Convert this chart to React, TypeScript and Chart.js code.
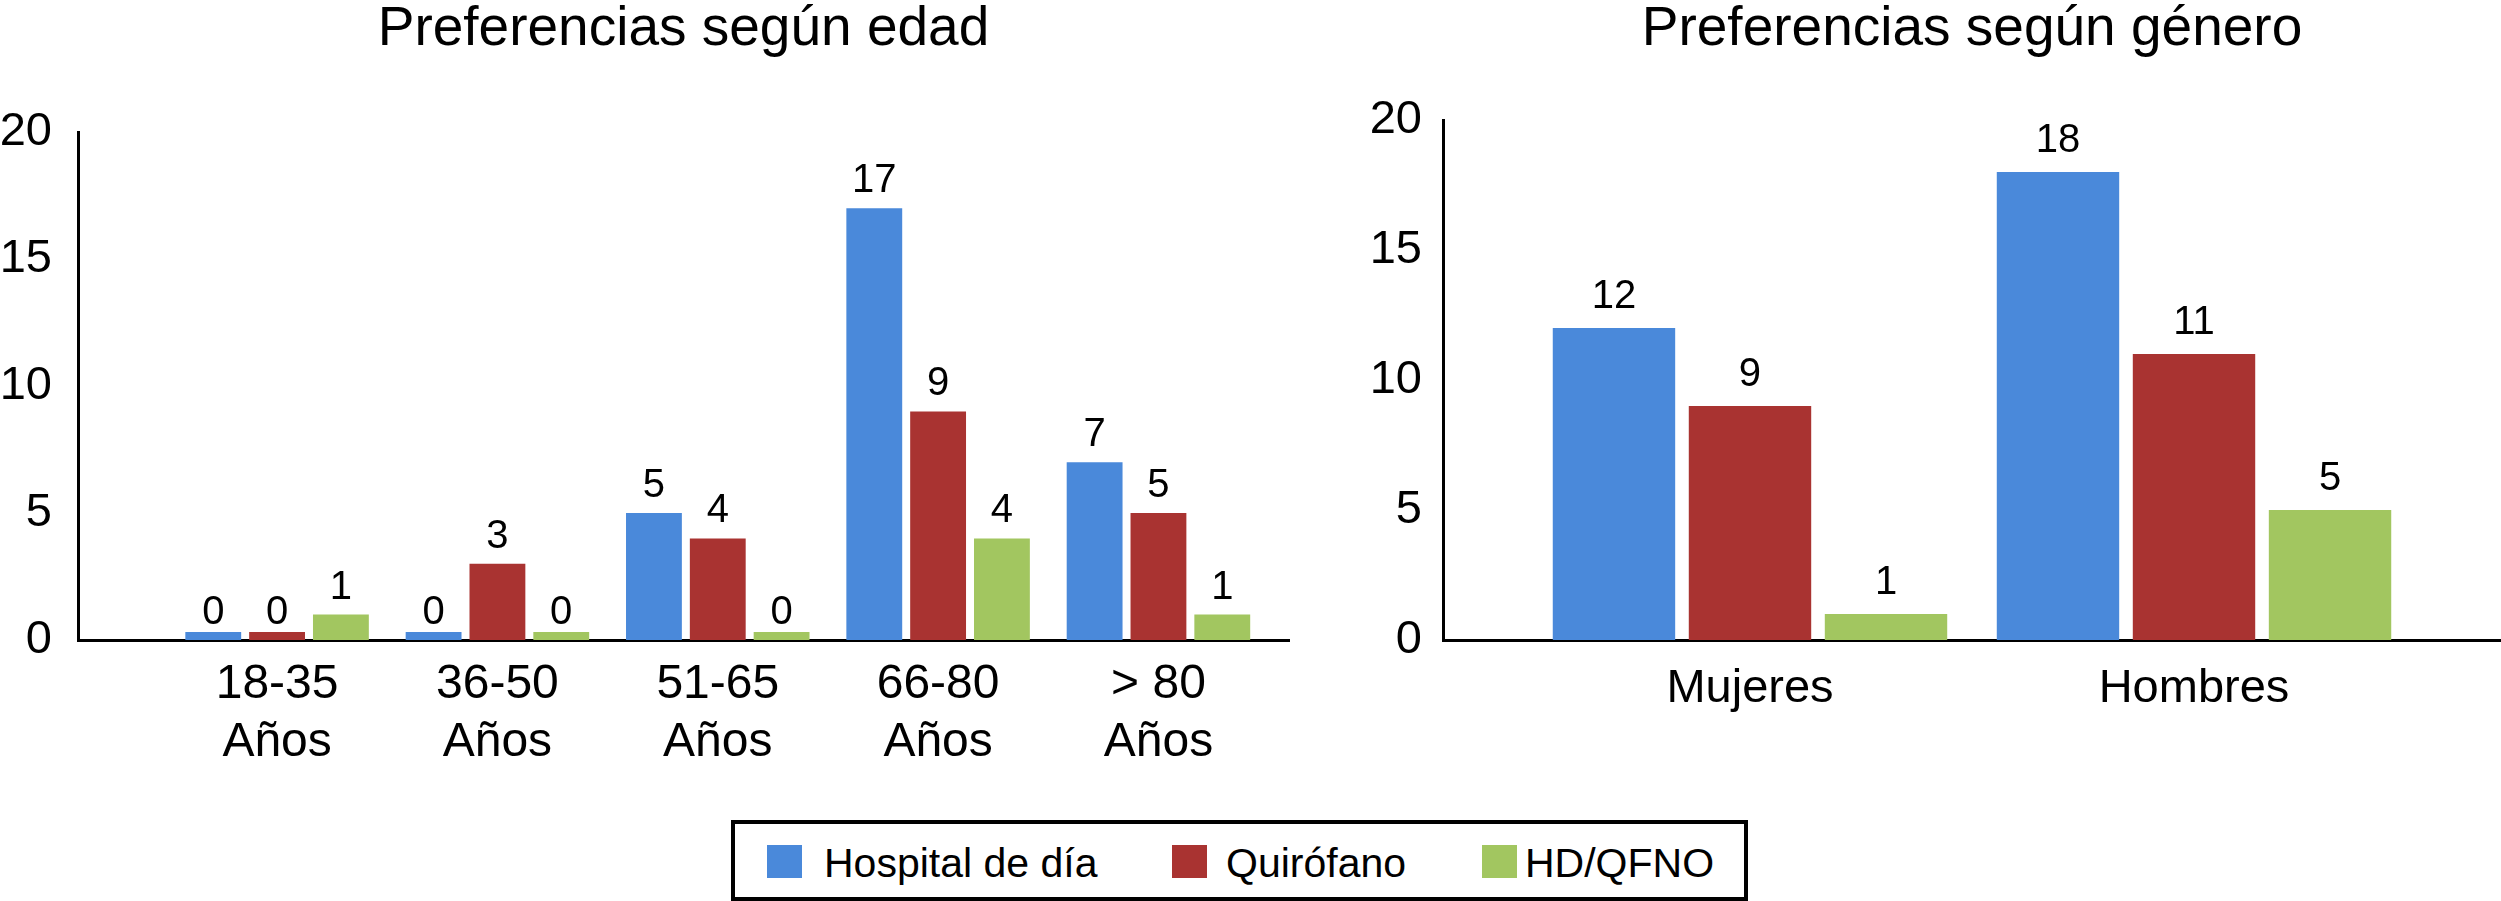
import React, { useEffect, useRef } from "react";
import { Chart, registerables } from "chart.js";

Chart.register(...registerables);

const FONT = '"Liberation Sans", Arial, Helvetica, sans-serif';

// ---- data ----
const seriesNames = ["Hospital de día", "Quirófano", "HD/QFNO"];
const seriesColors = ["#4A89DA", "#A93331", "#A2C660"];

const ageTitle = "Preferencias según edad";
const ageCategories = [
  ["18-35", "Años"],
  ["36-50", "Años"],
  ["51-65", "Años"],
  ["66-80", "Años"],
  ["> 80", "Años"],
];
const ageHospitalDia = [0, 0, 5, 17, 7];
const ageQuirofano = [0, 3, 4, 9, 5];
const ageHdQfno = [1, 0, 0, 4, 1];

const genderTitle = "Preferencias según género";
const genderCategories = ["Mujeres", "Hombres"];
const genderHospitalDia = [12, 18];
const genderQuirofano = [9, 11];
const genderHdQfno = [1, 5];

const yMin = 0;
const yMax = 20;
const yStep = 5;

type Layout = {
  xMin: number;
  xMax: number;
  catPct: number;
  barPct: number;
  yAxisWidth: number;
  yTickPad: number;
  titleBottom: number;
  rightPad: number;
  xLabelPad: number;
  xLabelSize: number;
  xLabelLine: number;
  valueFont: number;
  valueGap: number;
};

function valueLabelPlugin(fontSize: number, gap: number) {
  return {
    id: "valueLabels",
    afterDatasetsDraw(chart: any) {
      const ctx = chart.ctx;
      const yScale = chart.scales.y;
      ctx.save();
      ctx.font = `${fontSize}px ${FONT}`;
      ctx.fillStyle = "#000";
      ctx.textAlign = "center";
      ctx.textBaseline = "alphabetic";
      chart.data.datasets.forEach((ds: any, di: number) => {
        const meta = chart.getDatasetMeta(di);
        meta.data.forEach((bar: any, i: number) => {
          const v = ds.data[i].y;
          ctx.fillText(String(v), bar.x, yScale.getPixelForValue(v) - gap);
        });
      });
      ctx.restore();
    },
  };
}

function buildConfig(
  title: string,
  labels: any[],
  series: number[][],
  L: Layout
): any {
  return {
    type: "bar",
    data: {
      datasets: series.map((vals, si) => ({
        label: seriesNames[si],
        data: vals.map((v, i) => ({ x: i, y: v })),
        backgroundColor: seriesColors[si],
        borderWidth: 0,
        minBarLength: 8,
        categoryPercentage: L.catPct,
        barPercentage: L.barPct,
      })),
    },
    options: {
      responsive: false,
      animation: false,
      devicePixelRatio: 1,
      layout: { padding: { top: 0, left: 0, bottom: 0, right: L.rightPad } },
      plugins: {
        legend: { display: false },
        tooltip: { enabled: false },
        title: {
          display: true,
          text: title,
          fullSize: false,
          color: "#000",
          font: { family: FONT, size: 55, weight: "normal", lineHeight: 1.1 },
          padding: { top: 0, bottom: L.titleBottom - 60.5 },
        },
      },
      scales: {
        x: {
          type: "linear",
          min: L.xMin,
          max: L.xMax,
          bounds: "data",
          offset: false,
          grid: { display: false, drawTicks: false, offset: false },
          border: { display: true, color: "#000", width: 3 },
          afterBuildTicks: (scale: any) => {
            scale.ticks = labels.map((_: any, i: number) => ({ value: i }));
          },
          afterFit: (scale: any) => {
            scale.height = 160;
          },
          ticks: {
            autoSkip: false,
            includeBounds: false,
            maxRotation: 0,
            minRotation: 0,
            padding: L.xLabelPad,
            color: "#000",
            font: { family: FONT, size: L.xLabelSize, lineHeight: L.xLabelLine },
            callback: (value: number) => labels[value],
          },
        },
        y: {
          min: yMin,
          max: yMax,
          grid: { display: false, drawTicks: false },
          border: { display: true, color: "#000", width: 3 },
          afterFit: (scale: any) => {
            scale.width = L.yAxisWidth;
          },
          ticks: {
            stepSize: yStep,
            padding: L.yTickPad,
            color: "#000",
            font: { family: FONT, size: 47 },
          },
        },
      },
    },
    plugins: [valueLabelPlugin(L.valueFont, L.valueGap)],
  };
}

function BarPanel(props: {
  title: string;
  labels: any[];
  series: number[][];
  layout: Layout;
  left: number;
  width: number;
}) {
  const ref = useRef<HTMLCanvasElement | null>(null);
  useEffect(() => {
    if (!ref.current) return;
    const chart = new Chart(
      ref.current,
      buildConfig(props.title, props.labels, props.series, props.layout)
    );
    return () => chart.destroy();
  }, []);
  return (
    <canvas
      ref={ref}
      width={props.width}
      height={800}
      style={{
        position: "absolute",
        left: props.left,
        top: 0,
        width: props.width,
        height: 800,
      }}
    />
  );
}

const legendItems = [
  { sq: 767, tx: 824 },
  { sq: 1172, tx: 1226 },
  { sq: 1482, tx: 1525 },
];

export default function App() {
  return (
    <div
      style={{
        position: "absolute",
        left: 0,
        top: 0,
        width: 2501,
        height: 901,
        background: "#fff",
        overflow: "hidden",
      }}
    >
      <BarPanel
        title={ageTitle}
        labels={ageCategories}
        series={[ageHospitalDia, ageQuirofano, ageHdQfno]}
        left={0}
        width={1300}
        layout={{
          xMin: -0.9035,
          xMax: 4.5925,
          catPct: 0.869,
          barPct: 0.875,
          yAxisWidth: 78,
          yTickPad: 26,
          titleBottom: 132,
          rightPad: 11,
          xLabelPad: 16,
          xLabelSize: 48,
          xLabelLine: 1.2,
          valueFont: 40,
          valueGap: 16,
        }}
      />
      <BarPanel
        title={genderTitle}
        labels={genderCategories}
        series={[genderHospitalDia, genderQuirofano, genderHdQfno]}
        left={1300}
        width={1201}
        layout={{
          xMin: -0.6914,
          xMax: 1.6914,
          catPct: 0.919,
          barPct: 0.9,
          yAxisWidth: 143,
          yTickPad: 21,
          titleBottom: 120,
          rightPad: 0,
          xLabelPad: 26,
          xLabelSize: 47,
          xLabelLine: 1,
          valueFont: 40,
          valueGap: 20,
        }}
      />
      <div
        style={{
          position: "absolute",
          left: 731,
          top: 820,
          width: 1017,
          height: 81,
          boxSizing: "border-box",
          border: "4px solid #000",
        }}
      />
      {seriesNames.map((name, i) => (
        <React.Fragment key={name}>
          <div
            style={{
              position: "absolute",
              left: legendItems[i].sq,
              top: 845,
              width: 35,
              height: 33,
              background: seriesColors[i],
            }}
          />
          <div
            style={{
              position: "absolute",
              left: legendItems[i].tx,
              top: 843,
              height: 40,
              lineHeight: "40px",
              fontFamily: FONT,
              fontSize: 41,
              color: "#000",
              whiteSpace: "nowrap",
            }}
          >
            {name}
          </div>
        </React.Fragment>
      ))}
    </div>
  );
}
